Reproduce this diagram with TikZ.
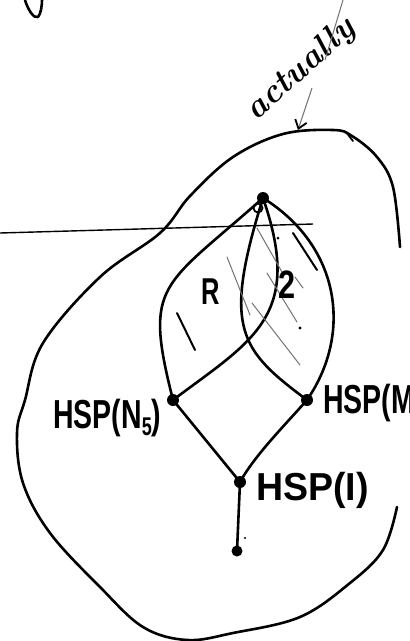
\documentclass[tikz,border=0pt]{standalone}
\usepackage{fontspec}
\usetikzlibrary{arrows.meta}
\newfontfamily\hand{Liberation Sans}
\newcommand{\lowfive}[1]{\raisebox{-0.35ex}{\fontsize{19}{19}\selectfont #1}}
\tikzset{
  dot/.style={circle, fill=black, inner sep=0pt, minimum size=12pt},
  stroke/.style={line width=2.6pt, line cap=round, line join=round},
  hatch/.style={black!55, line width=1pt, line cap=round},
  lbl/.style={font=\hand\bfseries\fontsize{30}{30}\selectfont, inner sep=0pt, anchor=west},
}
\begin{document}
\begin{tikzpicture}[x=1pt,y=1pt]
\useasboundingbox (0,0) rectangle (410,-641);
\clip (0,0) rectangle (410,-641);
\fill[white] (0,0) rectangle (410,-641);

% outer blob
\draw[stroke] plot[smooth, tension=0.6] coordinates {
 (397,-507) (383,-550) (350,-583) (300,-617) (233,-633) (187,-640)
 (143,-627) (100,-587) (50,-533) (23,-483) (17,-433) (25,-400)
 (43,-343) (100,-277) (160,-233) (190,-196) (233,-157) (283,-134)
 (333,-130) (352,-136) (377,-157) (393,-187) (400,-247)};
% small tick on blob
\draw[line width=1.8pt, line cap=round] (346,-132) -- (353,-141);

% fragment top-left
\draw[stroke] (25,0) .. controls (28,-10) and (34,-19) .. (38,-17)
  .. controls (41,-14) and (42,-5) .. (42,0);

% nodes
\node[dot] (T) at (263,-198) {};
\draw[line width=1.8pt] (258,-208) circle (4.5pt);
\node[dot] (N5) at (173,-400) {};
\node[dot] (M3) at (307,-400) {};
\node[dot] (I) at (240,-482) {};
\node[dot, minimum size=11pt] (B) at (237,-551) {};

% horizontal line
\coordinate (hl) at (0,-233);
\coordinate (hr) at (313,-224);
\draw[line width=1.4pt] (hl) -- (hr);

% lenses
\draw[stroke] (T.center) .. controls (162,-288) and (143,-282) .. (N5.center);
\draw[stroke] (T.center) .. controls (304,-316) and (253,-340) .. (N5.center);
\draw[stroke] (T.center) .. controls (222,-329) and (240,-350) .. (M3.center);
\draw[stroke] (T.center) .. controls (340,-246) and (353,-333) .. (M3.center);

% lattice edges
\draw[stroke] (N5.center) -- (I.center);
\draw[stroke] (M3.center) .. controls (285,-425) and (255,-455) .. (I.center);
\draw[stroke] (I.center) -- (B.center);
\fill (245,-538) circle (1.2pt);

% hatching and marks inside lenses
\draw[hatch] (227,-257) -- (250,-315);
\draw[hatch] (257,-228) -- (282,-272);
\draw[hatch] (252,-303) -- (300,-365);
\draw[hatch] (267,-273) -- (297,-322);
\draw[hatch] (295,-277) -- (303,-288);
\draw[line width=2pt, line cap=round] (293,-233) -- (317,-270);
\draw[line width=2pt, line cap=round] (177,-313) -- (195,-350);
\fill (278,-238) circle (1.5pt);
\fill (300,-328) circle (1.7pt);
\node[font=\hand\bfseries\fontsize{34}{34}\selectfont, inner sep=0pt] (R) at (211,-292) {\scalebox{0.75}[1.1]{R}};
\node[font=\hand\bfseries\fontsize{36}{36}\selectfont, inner sep=0pt] (two) at (287,-285) {\scalebox{0.85}[1.1]{2}};

% labels
\node[lbl] (lN) at (53,-418) {\scalebox{0.95}[1.35]{HSP(N\lowfive{5})}};
\node[lbl] (lM) at (323,-403) {\scalebox{0.95}[1.35]{HSP(M\lowfive{3})}};
\node[lbl] (lI) at (256,-490) {\scalebox{1.25}[1.3]{HSP(I)}};

% actually + arrow
\node[rotate=42, font=\bfseries\itshape\fontsize{34}{34}\selectfont, inner sep=0pt] (act) at (301,-70) {actually};
\coordinate (g1) at (343,0);
\coordinate (g2) at (325,-60);
\draw[black!55, line width=1pt] (g1) -- (g2);
\coordinate (a1) at (312,-88);
\coordinate (a2) at (298,-130);
\draw[black!55, line width=1pt, -{Straight Barb[black, length=8pt, width=12pt, line width=1.8pt]}] (a1) -- (a2);
\end{tikzpicture}
\end{document}
